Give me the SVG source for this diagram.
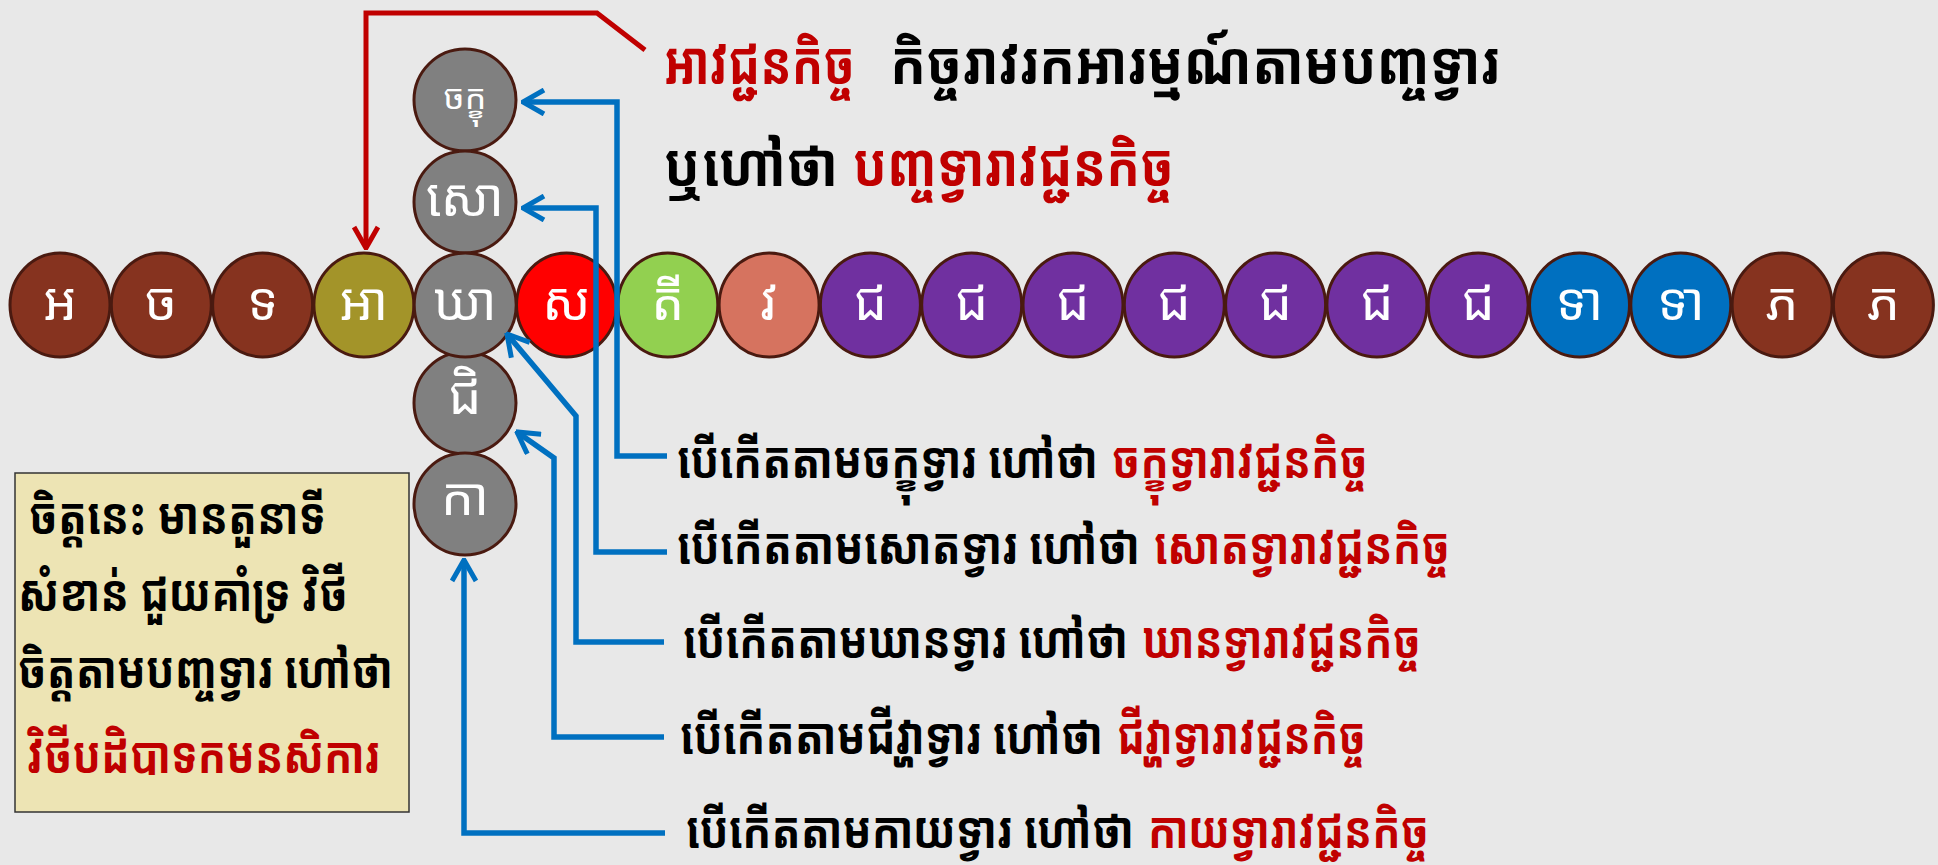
<svg xmlns="http://www.w3.org/2000/svg" width="1938" height="865" viewBox="0 0 1938 865">
<defs>
<style>
.bg{fill:#E8E8E8}
.c{stroke:#4A1A10;stroke-width:3}
.br{fill:#86331F}.ol{fill:#A39429}.gy{fill:#808080}.rd{fill:#FF0000}.gn{fill:#92D050}.sa{fill:#D6735F}.pu{fill:#7030A0}.bl{fill:#0070C0}
.lt{font-family:"Noto Sans Khmer","Noto Serif Khmer","Khmer OS","Khmer OS System","DejaVu Sans",sans-serif;fill:#FFFFFF;text-anchor:middle;font-size:52px}
.k{font-family:"Noto Sans Khmer","Noto Serif Khmer","Khmer OS","Khmer OS System","DejaVu Sans",sans-serif;font-weight:bold}
.t{font-size:60px}.s{font-size:51px}
.blk{fill:#000000}.red{fill:#C00000}
.bline{fill:none;stroke:#0070C0;stroke-width:5.5}
.rline{fill:none;stroke:#C00000;stroke-width:5}
</style>
<marker id="ab" viewBox="0 0 26 28" refX="24" refY="14" markerWidth="26" markerHeight="28" markerUnits="userSpaceOnUse" orient="auto">
<path d="M3,2 L24,14 L3,26" fill="none" stroke="#0070C0" stroke-width="5"/>
</marker>
<marker id="ar" viewBox="0 0 26 28" refX="24" refY="14" markerWidth="26" markerHeight="28" markerUnits="userSpaceOnUse" orient="auto">
<path d="M3,2 L24,14 L3,26" fill="none" stroke="#C00000" stroke-width="5"/>
</marker>
</defs>
<rect class="bg" x="0" y="0" width="1938" height="865"/>

<g id="row">
<g id="n1"><ellipse class="c br" cx="60" cy="305" rx="50" ry="52"/><text class="lt" x="60" y="320">អ</text></g>
<g id="n2"><ellipse class="c br" cx="161.3" cy="305" rx="50" ry="52"/><text class="lt" x="161.3" y="320">ច</text></g>
<g id="n3"><ellipse class="c br" cx="262.6" cy="305" rx="50" ry="52"/><text class="lt" x="262.6" y="320">ទ</text></g>
<g id="n4"><ellipse class="c ol" cx="363.9" cy="305" rx="50" ry="52"/><text class="lt" x="363.9" y="320">អា</text></g>
<g id="n6"><ellipse class="c rd" cx="566.5" cy="305" rx="50" ry="52"/><text class="lt" x="566.5" y="320">ស</text></g>
<g id="n7"><ellipse class="c gn" cx="667.8" cy="305" rx="50" ry="52"/><text class="lt" x="667.8" y="320">តី</text></g>
<g id="n8"><ellipse class="c sa" cx="769.1" cy="305" rx="50" ry="52"/><text class="lt" x="769.1" y="320">វ</text></g>
<g id="n9"><ellipse class="c pu" cx="870.4" cy="305" rx="50" ry="52"/><text class="lt" x="870.4" y="320">ជ</text></g>
<g id="n10"><ellipse class="c pu" cx="971.7" cy="305" rx="50" ry="52"/><text class="lt" x="971.7" y="320">ជ</text></g>
<g id="n11"><ellipse class="c pu" cx="1073" cy="305" rx="50" ry="52"/><text class="lt" x="1073" y="320">ជ</text></g>
<g id="n12"><ellipse class="c pu" cx="1174.3" cy="305" rx="50" ry="52"/><text class="lt" x="1174.3" y="320">ជ</text></g>
<g id="n13"><ellipse class="c pu" cx="1275.6" cy="305" rx="50" ry="52"/><text class="lt" x="1275.6" y="320">ជ</text></g>
<g id="n14"><ellipse class="c pu" cx="1376.9" cy="305" rx="50" ry="52"/><text class="lt" x="1376.9" y="320">ជ</text></g>
<g id="n15"><ellipse class="c pu" cx="1478.2" cy="305" rx="50" ry="52"/><text class="lt" x="1478.2" y="320">ជ</text></g>
<g id="n16"><ellipse class="c bl" cx="1579.5" cy="305" rx="50" ry="52"/><text class="lt" x="1579.5" y="320">ទា</text></g>
<g id="n17"><ellipse class="c bl" cx="1680.8" cy="305" rx="50" ry="52"/><text class="lt" x="1680.8" y="320">ទា</text></g>
<g id="n18"><ellipse class="c br" cx="1782.1" cy="305" rx="50" ry="52"/><text class="lt" x="1782.1" y="320">ភ</text></g>
<g id="n19"><ellipse class="c br" cx="1883.4" cy="305" rx="50" ry="52"/><text class="lt" x="1883.4" y="320">ភ</text></g>
</g>

<g id="column">
<g id="v1"><ellipse class="c gy" cx="465" cy="100" rx="51" ry="51"/><text class="lt" x="465" y="109" style="font-size:34px">ចក្ខុ</text></g>
<g id="v2"><ellipse class="c gy" cx="465" cy="202" rx="51" ry="51"/><text class="lt" x="465" y="216">សោ</text></g>
<g id="v4"><ellipse class="c gy" cx="465" cy="403" rx="51" ry="51"/><text class="lt" x="465" y="414">ជិ</text></g>
<g id="v5"><ellipse class="c gy" cx="465" cy="504" rx="51" ry="51"/><text class="lt" x="465" y="515">កា</text></g>
<g id="v3"><ellipse class="c gy" cx="465.2" cy="305" rx="51" ry="52"/><text class="lt" x="465.2" y="320">ឃា</text></g>
</g>

<g id="connectors">
<path class="rline" d="M645,50 L597,13 L366,13 L366,248" marker-end="url(#ar)"/>
<path class="bline" d="M667,456 L617,456 L617,102 L523,102" marker-end="url(#ab)"/>
<path class="bline" d="M667,552 L596,552 L596,208 L523,208" marker-end="url(#ab)"/>
<path class="bline" d="M664,642 L576,642 L576,416 L507,334" marker-end="url(#ab)"/>
<path class="bline" d="M664,737 L554,737 L554,458 L517,432" marker-end="url(#ab)"/>
<path class="bline" d="M665,833 L464,833 L464,560" marker-end="url(#ab)"/>
</g>

<g id="title">
<text class="k t red" transform="translate(664,84) scale(0.82,1)" textLength="232.9" lengthAdjust="spacingAndGlyphs">អាវជ្ជនកិច្ច</text>
<text class="k t blk" transform="translate(890,84) scale(0.82,1)" textLength="743.9" lengthAdjust="spacingAndGlyphs">កិច្ចរាវរកអារម្មណ៍តាមបញ្ចទ្វារ</text>
<text class="k t blk" transform="translate(664,186) scale(0.82,1)" textLength="212.2" lengthAdjust="spacingAndGlyphs">ឬហៅថា</text>
<text class="k t red" transform="translate(853,186) scale(0.82,1)" textLength="391.5" lengthAdjust="spacingAndGlyphs">បញ្ចទ្វារាវជ្ជនកិច្ច</text>
</g>

<g id="labels">
<g id="labA"><text class="k s blk" transform="translate(677,478) scale(0.82,1)" textLength="513.4" lengthAdjust="spacingAndGlyphs">បើកើតតាមចក្ខុទ្វារ ហៅថា</text><text class="k s red" transform="translate(1112,478) scale(0.82,1)" textLength="312.2" lengthAdjust="spacingAndGlyphs">ចក្ខុទ្វារាវជ្ជនកិច្ច</text></g>
<g id="labB"><text class="k s blk" transform="translate(677,564) scale(0.82,1)" textLength="564.6" lengthAdjust="spacingAndGlyphs">បើកើតតាមសោតទ្វារ ហៅថា</text><text class="k s red" transform="translate(1154,564) scale(0.82,1)" textLength="361" lengthAdjust="spacingAndGlyphs">សោតទ្វារាវជ្ជនកិច្ច</text></g>
<g id="labC"><text class="k s blk" transform="translate(683,658) scale(0.82,1)" textLength="542.7" lengthAdjust="spacingAndGlyphs">បើកើតតាមឃានទ្វារ ហៅថា</text><text class="k s red" transform="translate(1142,658) scale(0.82,1)" textLength="340.2" lengthAdjust="spacingAndGlyphs">ឃានទ្វារាវជ្ជនកិច្ច</text></g>
<g id="labD"><text class="k s blk" transform="translate(680,754) scale(0.82,1)" textLength="515.9" lengthAdjust="spacingAndGlyphs">បើកើតតាមជីវ្ហាទ្វារ ហៅថា</text><text class="k s red" transform="translate(1117,754) scale(0.82,1)" textLength="303.7" lengthAdjust="spacingAndGlyphs">ជីវ្ហាទ្វារាវជ្ជនកិច្ច</text></g>
<g id="labE"><text class="k s blk" transform="translate(686,848) scale(0.82,1)" textLength="546.3" lengthAdjust="spacingAndGlyphs">បើកើតតាមកាយទ្វារ ហៅថា</text><text class="k s red" transform="translate(1148,848) scale(0.82,1)" textLength="342.7" lengthAdjust="spacingAndGlyphs">កាយទ្វារាវជ្ជនកិច្ច</text></g>
</g>

<g id="note">
<rect x="15" y="473" width="394" height="339" fill="#EDE4B4" stroke="#333333" stroke-width="1.5"/>
<text class="k s blk" transform="translate(29,534) scale(0.82,1)" textLength="362.2" lengthAdjust="spacingAndGlyphs">ចិត្តនេះ មានតួនាទី</text>
<text class="k s blk" transform="translate(18,611) scale(0.82,1)" textLength="402.4" lengthAdjust="spacingAndGlyphs">សំខាន់ ជួយគាំទ្រ វិថី</text>
<text class="k s blk" transform="translate(18,688) scale(0.82,1)" textLength="457.3" lengthAdjust="spacingAndGlyphs">ចិត្តតាមបញ្ចទ្វារ ហៅថា</text>
<text class="k s red" transform="translate(27,773) scale(0.82,1)" textLength="430.5" lengthAdjust="spacingAndGlyphs">វិថីបដិបាទកមនសិការ</text>
</g>
</svg>
